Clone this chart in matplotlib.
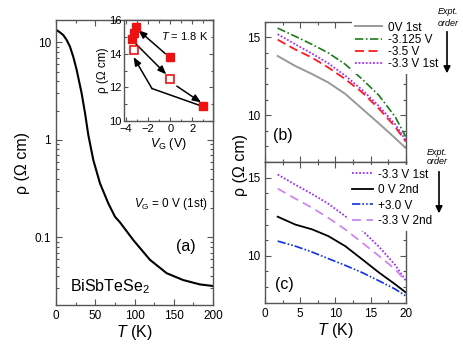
import matplotlib
matplotlib.use('Agg')
import matplotlib.pyplot as plt
from matplotlib.ticker import MultipleLocator, FixedLocator, NullFormatter

plt.rcParams['font.family'] = ['Liberation Sans', 'DejaVu Sans']
plt.rcParams['mathtext.fontset'] = 'custom'
plt.rcParams['mathtext.rm'] = 'Liberation Sans'
plt.rcParams['mathtext.it'] = 'Liberation Sans:italic'
plt.rcParams['axes.edgecolor'] = '#555555'
plt.rcParams['xtick.color'] = '#555555'
plt.rcParams['ytick.color'] = '#555555'
plt.rcParams['xtick.labelcolor'] = 'black'
plt.rcParams['ytick.labelcolor'] = 'black'

# panel (a): rho(T) at VG = 0 V (1st), log scale
T_a = [2, 5, 9.3, 13.6, 17.8, 22.2, 26.4, 32.7, 37, 41.2, 47.6, 56, 66.6, 75.2, 81.5, 98.5, 119.7, 141, 162, 183.4, 200]
rho_a = [13.2, 12.7, 11.9, 10.6, 9.06, 7.04, 5.2, 3.0, 1.88, 1.12, 0.62, 0.36, 0.224, 0.163, 0.143,
         0.094, 0.059, 0.043, 0.0366, 0.033, 0.0318]

# inset: rho at T = 1.8 K vs gate voltage
vg_filled = [0, -3.125, -3.5, -3.3, 3.0]
rho_filled = [13.8, 15.6, 14.9, 15.2, 10.9]
vg_open = [0, -3.3]
rho_open = [12.5, 14.2]
# arrows (start -> end) showing the order of the gate sweeps
arrows = [((-0.45, 14.0), (-2.9, 15.4)),
          ((-3.3, 14.7), (-0.36, 12.77)),
          ((0.6, 12.07), (2.8, 11.1)),
          ((-1.66, 11.93), (-3.33, 13.8))]
path_x = [3.0, -1.66]
path_y = [10.85, 11.93]

# panels (b) and (c): low temperature rho(T) for each gate voltage
T_bc = [1.8, 4.3, 6.7, 9.0, 11.4, 13.8, 16.2, 18.5, 20.0]
rho_0v_1st = [13.8, 13.16, 12.64, 12.1, 11.37, 10.42, 9.47, 8.53, 7.9]
rho_m3125 = [15.59, 15.06, 14.54, 14.0, 13.27, 12.32, 11.27, 9.9, 8.63]
rho_m35 = [14.85, 14.22, 13.69, 13.06, 12.32, 11.47, 10.42, 9.26, 8.31]
rho_m33_1st = [15.2, 14.55, 13.95, 13.33, 12.54, 11.63, 10.58, 9.42, 8.42]
rho_0v_2nd = [12.5, 12.0, 11.69, 11.26, 10.62, 9.78, 8.93, 8.18, 7.66]
rho_p30 = [10.94, 10.62, 10.24, 9.82, 9.39, 8.93, 8.4, 7.87, 7.44]
rho_m33_2nd = [14.3, 13.66, 13.07, 12.43, 11.69, 10.84, 9.99, 9.14, 8.4]

W, H = 463, 352
fig = plt.figure(figsize=(W / 100, H / 100), dpi=100)


def box(l, t, r, b):
    # pixel box -> figure fraction rect
    return [l / W, 1 - b / H, (r - l) / W, (b - t) / H]


def style(ax, size=8.5):
    ax.tick_params(which='both', direction='in', top=True, right=True, labelsize=size, width=0.8)
    ax.tick_params(which='major', length=4)
    ax.tick_params(which='minor', length=2.5)
    for s in ax.spines.values():
        s.set_linewidth(1.0)


# ---- panel (a)
ax_a = fig.add_axes(box(56, 20, 213, 305))
ax_a.plot(T_a, rho_a, color='black', lw=1.5)
ax_a.set_yscale('log')
ax_a.set_xlim(0, 200)
ax_a.set_ylim(0.0203, 17)
ax_a.xaxis.set_major_locator(MultipleLocator(50))
ax_a.xaxis.set_minor_locator(MultipleLocator(25))
ax_a.set_yticks([0.1, 1, 10])
ax_a.set_yticklabels(['0.1', '1', '10'])
style(ax_a)
ax_a.set_xlabel('$T$ (K)', fontsize=11.5, labelpad=1)
ax_a.set_ylabel('ρ (Ω cm)', fontsize=11.5, labelpad=3)
ax_a.text(0.965, 0.355, '$V_{\\rm G}$ = 0 V (1st)', transform=ax_a.transAxes, ha='right', va='center', fontsize=8.5)
ax_a.text(0.83, 0.207, '(a)', transform=ax_a.transAxes, ha='center', va='center', fontsize=11.5)
ax_a.text(0.09, 0.066, 'BiSbTeSe$_2$', transform=ax_a.transAxes, ha='left', va='center', fontsize=11.5)

# ---- inset
ax_i = fig.add_axes(box(124.5, 20, 212.7, 121))
for (x0, y0), (x1, y1) in arrows:
    ax_i.annotate('', xy=(x1, y1), xytext=(x0, y0),
                  arrowprops=dict(arrowstyle='-|>,head_length=0.5,head_width=0.2', color='black', lw=1.1,
                                  shrinkA=0, shrinkB=0))
ax_i.plot(path_x, path_y, color='black', lw=1.1)
ax_i.plot(vg_filled, rho_filled, 's', color='#ee1111', ms=5.5, mec='#ee1111', ls='none', zorder=5)
ax_i.plot(vg_open, rho_open, 's', mfc='white', mec='#ee1111', mew=1.2, ms=5.2, ls='none', zorder=5)
ax_i.set_xlim(-4.15, 3.85)
ax_i.set_ylim(10, 16)
ax_i.xaxis.set_minor_locator(MultipleLocator(1))
ax_i.yaxis.set_major_locator(MultipleLocator(2))
ax_i.yaxis.set_minor_locator(MultipleLocator(1))
style(ax_i, size=8)
ax_i.tick_params(which='major', length=3, pad=2)
ax_i.tick_params(which='minor', length=1.8)
ax_i.set_xticks([-4, -2, 0, 2])
ax_i.set_xticklabels(['−4', '−2', '0', '2'])
ax_i.set_xlabel('$V_{\\rm G}$ (V)', fontsize=9, labelpad=1.5)
ax_i.set_ylabel('ρ (Ω cm)', fontsize=8.5, labelpad=0)
ax_i.text(0.95, 0.84, '$T$ = 1.8 K', transform=ax_i.transAxes, ha='right', va='center', fontsize=8)

# ---- panel (b)
ax_b = fig.add_axes(box(265, 21.7, 405.7, 162))
ax_b.plot(T_bc, rho_0v_1st, color='#999999', lw=1.4, label='0V 1st')
ax_b.plot(T_bc, rho_m3125, color='#1a7a1a', lw=1.2, dashes=(5, 1.5, 1, 1.5), label='-3.125 V')
ax_b.plot(T_bc, rho_m35, color='#ff1a1a', lw=1.3, dashes=(5, 2.5), label='-3.5 V')
ax_b.plot(T_bc, rho_m33_1st, color='#a030f0', lw=1.3, dashes=(1, 1), label='-3.3 V 1st')

# ---- panel (c)
ax_c = fig.add_axes(box(265, 162, 405.7, 302.7))
ax_c.plot(T_bc, rho_m33_1st, color='#a030f0', lw=1.3, dashes=(1, 1), label='-3.3 V 1st')
ax_c.plot(T_bc, rho_0v_2nd, color='black', lw=1.3, label='0 V 2nd')
ax_c.plot(T_bc, rho_p30, color='#1030e0', lw=1.2, dashes=(5, 1.2, 1, 1.2, 1, 1.2), label='+3.0 V')
ax_c.plot(T_bc, rho_m33_2nd, color='#cc88f0', lw=1.3, dashes=(5, 3), label='-3.3 V 2nd')

for ax in (ax_b, ax_c):
    ax.set_xlim(0, 20)
    ax.set_ylim(7, 16)
    ax.xaxis.set_major_locator(MultipleLocator(5))
    ax.xaxis.set_minor_locator(MultipleLocator(2.5))
    ax.yaxis.set_major_locator(FixedLocator([10, 15]))
    ax.yaxis.set_minor_locator(MultipleLocator(1))
    style(ax)
ax_b.xaxis.set_major_formatter(NullFormatter())
ax_c.set_xlabel('$T$ (K)', fontsize=11.5, labelpad=1)
fig.text(240 / W, 1 - 165 / H, 'ρ (Ω cm)', rotation=90, ha='center', va='center', fontsize=11.5)
ax_b.text(0.13, 0.19, '(b)', transform=ax_b.transAxes, ha='center', va='center', fontsize=11.5)
ax_c.text(0.14, 0.13, '(c)', transform=ax_c.transAxes, ha='center', va='center', fontsize=11.5)

leg_b = ax_b.legend(loc='upper left', bbox_to_anchor=(351.5 / W, 1 - 18 / H), bbox_transform=fig.transFigure,
                    fontsize=8.5, frameon=True, fancybox=False, edgecolor='none', facecolor='white', framealpha=1,
                    borderpad=0.3, labelspacing=0.02, handlelength=2.25, handletextpad=0.5, borderaxespad=0)
leg_c = ax_c.legend(loc='upper left', bbox_to_anchor=(348 / W, 1 - 165 / H), bbox_transform=fig.transFigure,
                    fontsize=8.5, frameon=True, fancybox=False, edgecolor='none', facecolor='white', framealpha=1,
                    borderpad=0.3, labelspacing=0.3, handlelength=1.8, handletextpad=0.45, borderaxespad=0)

# "Expt. order" notes with arrows
fig.text(448 / W, 1 - 12 / H, 'Expt.', style='italic', ha='center', va='center', fontsize=6.5)
fig.text(448 / W, 1 - 23 / H, 'order', style='italic', ha='center', va='center', fontsize=6.5)
fig.text(437 / W, 1 - 152 / H, 'Expt.', style='italic', ha='center', va='center', fontsize=6.5)
fig.text(437 / W, 1 - 162 / H, 'order', style='italic', ha='center', va='center', fontsize=6.5)
for x, y0, y1 in [(447, 31.7, 73.3), (439, 171.7, 213.3)]:
    fig.add_artist(matplotlib.patches.FancyArrowPatch(
        (x / W, 1 - y0 / H), (x / W, 1 - y1 / H), transform=fig.transFigure,
        arrowstyle='-|>,head_length=4,head_width=2', color='black', lw=1.2, shrinkA=0, shrinkB=0))

fig.savefig('out.png', dpi=100)
